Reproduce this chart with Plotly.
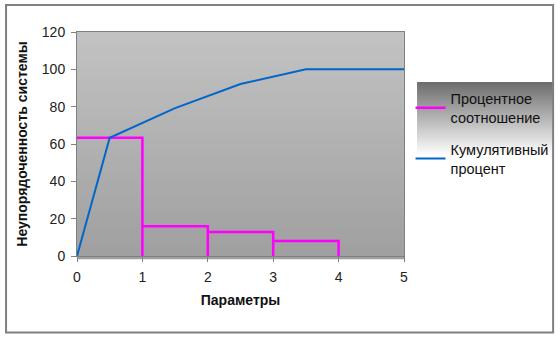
import plotly.graph_objects as go

# Data
param_pos = [1, 2, 3, 4]
percent_share = [63.3, 15.9, 12.9, 8.0]
cum_x = [0, 0.5, 1.5, 2.5, 3.5, 5]
cum_y = [0, 63.3, 79.2, 92.1, 100, 100]
x_ticks = [0, 1, 2, 3, 4, 5]
y_ticks = [0, 20, 40, 60, 80, 100, 120]

# Build step outline for percent series
px, py = [], []
prev = 0
for pos, val in zip(param_pos, percent_share):
    px += [prev, pos, pos]
    py += [val, val, 0]
    prev = pos

FONT = "Liberation Sans, Arial, sans-serif"

fig = go.Figure()
fig.add_trace(go.Scatter(x=px, y=py, mode="lines", name="Процентное<br>соотношение",
                         legendgroup="a",
                         line=dict(color="#ff00ff", width=2.5), cliponaxis=False))
fig.add_trace(go.Scatter(x=cum_x, y=cum_y, mode="lines", name="Кумулятивный<br>процент",
                         legendgroup="b",
                         line=dict(color="#0066cc", width=2), cliponaxis=False))

shapes = []
# plot area gradient
N = 40
for i in range(N):
    t = i / (N - 1)
    c = int(round(0xc2 + (0xa0 - 0xc2) * t))
    shapes.append(dict(type="rect", xref="x domain", yref="y domain",
                       x0=0, x1=1, y0=1 - (i + 1.6) / N, y1=1 - i / N,
                       fillcolor=f"rgb({c},{c},{c})", line=dict(width=0), layer="below"))
# legend gradient
lx0, lx1, ly0, ly1 = 1.04, 1.456, 0.348, 0.777
M = 40
for i in range(M):
    t = i / (M - 1)
    c = int(round(0x6e + (0xff - 0x6e) * min(1, t * 1.3)))
    shapes.append(dict(type="rect", xref="paper", yref="paper",
                       x0=lx0, x1=lx1,
                       y0=max(ly0, ly1 - (i + 1.6) * (ly1 - ly0) / M), y1=ly1 - i * (ly1 - ly0) / M,
                       fillcolor=f"rgb({c},{c},{c})", line=dict(width=0), layer="below"))
# outer frame
shapes.append(dict(type="rect", xref="paper", yref="paper",
                   x0=-0.217, x1=1.456, y0=-0.342, y1=1.12,
                   line=dict(color="#808080", width=2), fillcolor="rgba(0,0,0,0)"))

fig.update_layout(
    width=560, height=338,
    margin=dict(l=77, r=156, t=32, b=82, autoexpand=False),
    paper_bgcolor="white", plot_bgcolor="#b0b0b0",
    font=dict(family=FONT, size=14, color="#222222"),
    shapes=shapes,
    showlegend=True,
    legend=dict(x=1.02, y=0.775, xanchor="left", yanchor="top",
                bgcolor="rgba(0,0,0,0)", font=dict(size=14.5, color="#111111"),
                tracegroupgap=10, itemwidth=30),
    xaxis=dict(range=[0, 5], tickvals=x_ticks, showgrid=False, zeroline=False,
               showline=True, linecolor="#808080", linewidth=1, mirror=True,
               ticks="outside", ticklen=5, tickcolor="#808080", ticklabelstandoff=3,
               title=dict(text="<b>Параметры</b>", font=dict(size=14, color="#111111"), standoff=11)),
    yaxis=dict(range=[0, 120], tickvals=y_ticks, showgrid=False, zeroline=False,
               showline=True, linecolor="#808080", linewidth=1, mirror=True,
               ticks="outside", ticklen=5, tickcolor="#808080", ticklabelstandoff=3,
               title=dict(text="<b>Неупорядоченность системы</b>", font=dict(size=14, color="#111111"), standoff=10)),
)

fig.write_html("out.html")
